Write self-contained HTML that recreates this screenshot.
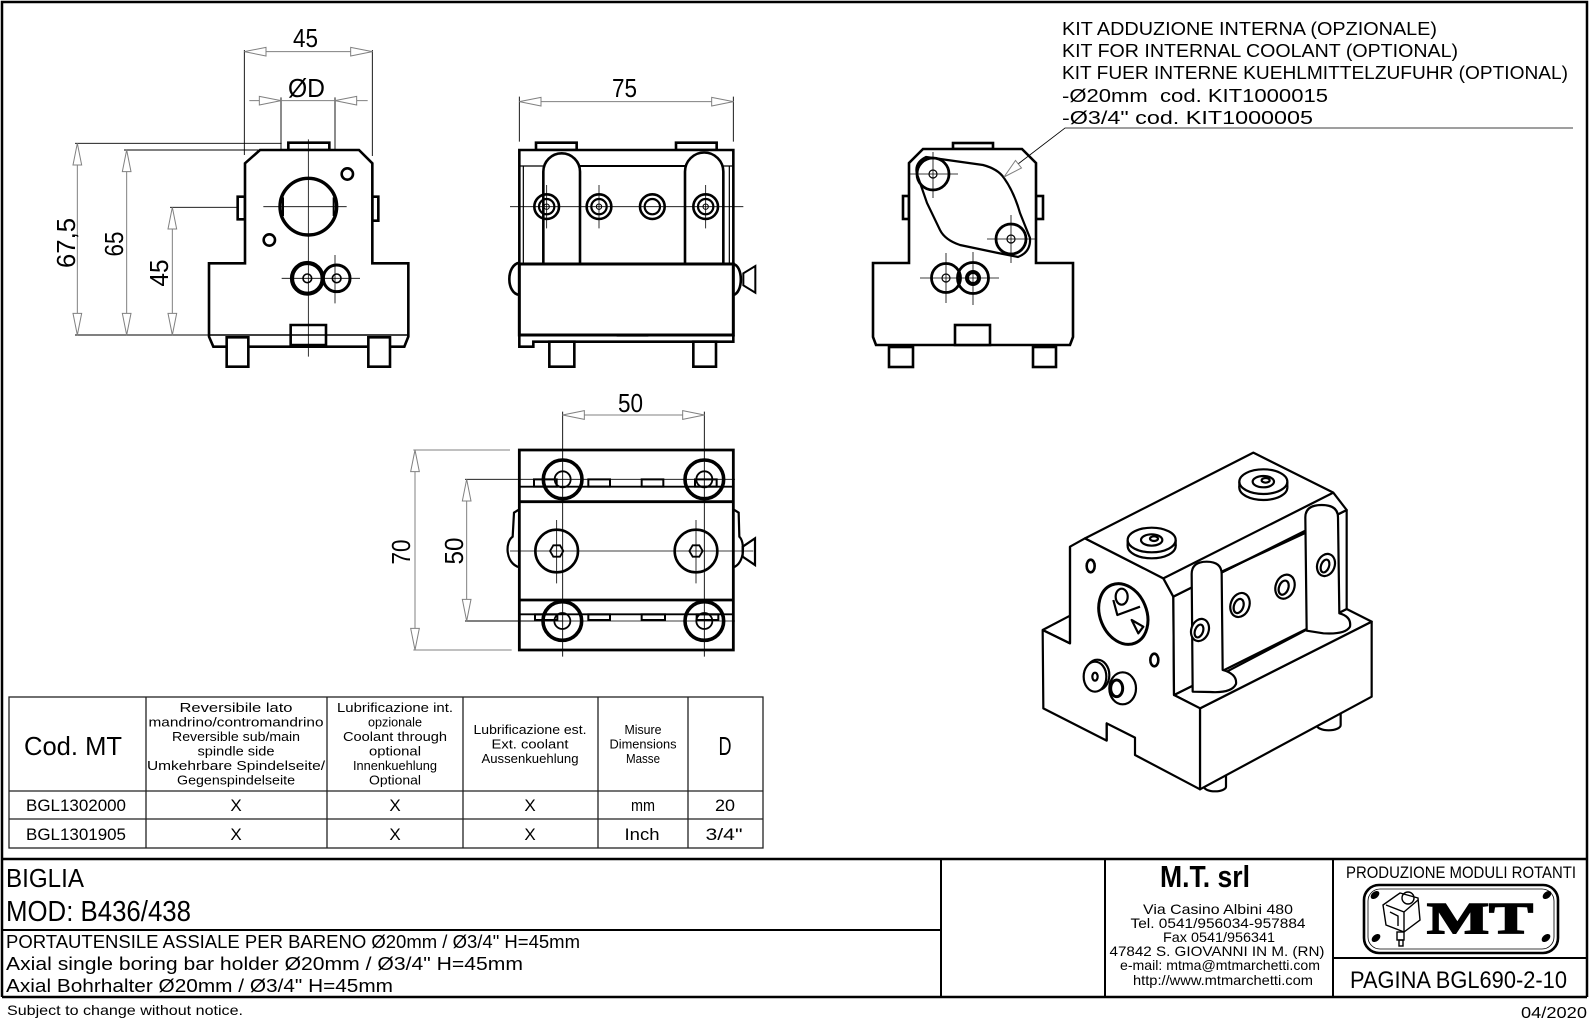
<!DOCTYPE html>
<html><head><meta charset="utf-8">
<style>
html,body{margin:0;padding:0;background:#fff;}
svg{display:block;}
.z *{vector-effect:non-scaling-stroke;}
text{font-family:"Liberation Sans",sans-serif;fill:#000;white-space:pre;}
</style></head><body>
<svg width="1596" height="1027" viewBox="0 0 1596 1027" xmlns="http://www.w3.org/2000/svg">
<rect x="0" y="0" width="1596" height="1027" fill="#fff"/>

<!-- ===== Frame ===== -->
<g stroke="#000" stroke-width="2.5" fill="none">
<path d="M2,997 V2 H1587 V997"/>
<path d="M2,859 H1587 M2,997 H1587"/>
</g>
<g stroke="#000" stroke-width="2" fill="none">
<path d="M941,859 V997 M1105,859 V997 M1333,859 V997 M2,930 H941 M1333,958 H1587"/>
</g>

<!-- ===== Front view (left) ===== -->
<g class="z" transform="scale(0.333333)">
 <g stroke="#000" stroke-width="0.9" fill="none">
  <path d="M733,150V465 M1117,150V468 M843,292V640 M1005,292V640 M225,430H845 M372,450H775 M510,622H790 M225,1005H627"/>
 </g>
 <g stroke="#808080" stroke-width="1" fill="none">
  <path d="M733,155H1117 M748,302H1103 M232,430V1005 M380,450V1005 M517,622V1005"/>
 </g>
 <g fill="#fff" stroke="#808080" stroke-width="1">
  <polygon points="733,155 798,142 798,168"/>
  <polygon points="1117,155 1052,142 1052,168"/>
  <polygon points="843,302 778,289 778,315"/>
  <polygon points="1005,302 1070,289 1070,315"/>
  <polygon points="232,430 219,495 245,495"/>
  <polygon points="232,1005 219,940 245,940"/>
  <polygon points="380,450 367,515 393,515"/>
  <polygon points="380,1005 367,940 393,940"/>
  <polygon points="517,622 504,687 530,687"/>
  <polygon points="517,1005 504,940 530,940"/>
 </g>
 <g stroke="#000" stroke-width="2.6" fill="none">
  <rect x="865" y="428" width="123" height="22" fill="#fff"/>
  <rect x="713" y="590" width="22" height="68" fill="#fff"/>
  <rect x="1117" y="590" width="18" height="72" fill="#fff"/>
  <path d="M627,790H735V490L780,450H1077L1117,490V790H1225V1010L1213,1040H640L627,1010Z" fill="#fff"/>
  <rect x="680" y="1012" width="65" height="88" fill="#fff"/>
  <rect x="1105" y="1012" width="65" height="88" fill="#fff"/>
  <rect x="872" y="975" width="106" height="60" fill="#fff"/>
  <circle cx="925" cy="620" r="85" stroke-width="3.4"/>
  <circle cx="1042" cy="522" r="17"/>
  <circle cx="808" cy="720" r="17"/>
  <circle cx="922" cy="835" r="46" stroke-width="4.2"/>
  <circle cx="1010" cy="835" r="40" stroke-width="3"/>
 </g>
 <g stroke="#000" stroke-width="1.6" fill="none">
  <path d="M627,1005H1225"/>
  <path d="M849,592V648 M1001,592V648" stroke-width="2"/>
  <circle cx="922" cy="835" r="13"/>
  <circle cx="1010" cy="835" r="13"/>
 </g>
 <g stroke="#000" stroke-width="0.8" fill="none">
  <path d="M925,418V1070 M790,620H1040 M845,835H1080 M1005,765V910"/>
 </g>
</g>

<!-- ===== Side view (middle) ===== -->
<g class="z" transform="translate(480,60) scale(0.333333)">
 <g stroke="#000" stroke-width="0.9" fill="none"><path d="M118,110V245 M760,110V245"/></g>
 <path d="M118,125H760" stroke="#808080" stroke-width="1" fill="none"/>
 <g fill="#fff" stroke="#808080" stroke-width="1">
  <polygon points="118,125 183,112 183,138"/>
  <polygon points="760,125 695,112 695,138"/>
 </g>
 <g stroke="#000" stroke-width="2.6" fill="none">
  <rect x="168" y="248" width="122" height="22" fill="#fff"/>
  <rect x="588" y="248" width="122" height="22" fill="#fff"/>
  <path d="M118,612V270H760V612" fill="#fff"/>
  <path d="M300,318H615" stroke-width="2"/>
  <path d="M190,612V335A55,55 0 0 1 300,335V612" fill="#fff"/>
  <path d="M615,612V335A57.5,57.5 0 0 1 730,335V612" fill="#fff"/>
  <path d="M118,608C78,615 78,700 118,705"/>
  <path d="M760,612C790,618 790,698 760,705"/>
  <path d="M790,640L826,618V698L790,676Z" stroke-width="2"/>
  <rect x="118" y="612" width="642" height="213" fill="#fff" stroke-width="3"/>
  <path d="M118,825V860H160V845H760V825"/>
  <rect x="208" y="845" width="75" height="75" fill="#fff"/>
  <rect x="640" y="845" width="68" height="75" fill="#fff"/>
 </g>
 <g stroke="#000" stroke-width="1.2" fill="none">
  <path d="M118,318H190 M730,318H760 M130,318V612 M748,318V612 M410,828H505"/>
 </g>
 <g stroke="#000" fill="none">
  <circle cx="200" cy="440" r="37" stroke-width="2.6"/><circle cx="200" cy="440" r="23" stroke-width="2.2"/><circle cx="200" cy="440" r="8" stroke-width="1"/>
  <circle cx="357" cy="440" r="37" stroke-width="2.6"/><circle cx="357" cy="440" r="23" stroke-width="2.2"/><circle cx="357" cy="440" r="8" stroke-width="1"/>
  <circle cx="517" cy="440" r="37" stroke-width="2.6"/><circle cx="517" cy="440" r="23" stroke-width="2.2"/>
  <circle cx="677" cy="440" r="37" stroke-width="2.6"/><circle cx="677" cy="440" r="23" stroke-width="2.2"/><circle cx="677" cy="440" r="8" stroke-width="1"/>
  <path d="M90,440H790 M200,375V505 M357,375V505 M677,375V505" stroke-width="0.8"/>
 </g>
</g>

<!-- ===== Right front view with kit ===== -->
<g stroke="#000" stroke-width="2.6" fill="none">
 <rect x="953" y="143" width="40" height="6" fill="#fff"/>
 <rect x="903" y="196" width="6" height="23" fill="#fff"/>
 <rect x="1036" y="196" width="7" height="23" fill="#fff"/>
 <path d="M873,263H909V163L923,149H1022L1036,163V263H1073V337L1070,345H876L873,337Z" fill="#fff"/>
 <rect x="955" y="325" width="35" height="20" fill="#fff"/>
 <rect x="889" y="347" width="24" height="20" fill="#fff"/>
 <rect x="1033" y="347" width="23" height="20" fill="#fff"/>
 <path d="M926,157 L983,165 Q998,169 1004,178 Q1014,192 1020,213 L1030,238 Q1031,252 1018,257 L998,253 L960,245 Q945,240 940,230 L927,203 L917,174 Q914,163 926,157Z" stroke-width="2.2"/>
 <circle cx="933" cy="174" r="16" stroke-width="2.8"/>
 <circle cx="1011" cy="239" r="15" stroke-width="2.8"/>
 <circle cx="946" cy="278" r="14.5" stroke-width="2.8"/>
 <circle cx="973" cy="278" r="15.5" stroke-width="2.8"/>
</g>
<g stroke="#000" fill="none">
 <circle cx="933" cy="174" r="4" stroke-width="1.2"/>
 <circle cx="1011" cy="239" r="4" stroke-width="1.2"/>
 <circle cx="946" cy="278" r="4" stroke-width="1.2"/>
 <circle cx="973" cy="278" r="6" stroke-width="4"/>
 <path d="M910,174H958 M933,152V198 M987,239H1035 M1011,215V263 M920,278H999 M946,253V303 M973,252V305" stroke-width="0.8"/>
</g>
<!-- leader -->
<path d="M1573,128H1065L1018,164" stroke="#000" stroke-width="0.8" fill="none"/>
<polygon points="1004,177 1021.5,168 1015.5,160.5" fill="#fff" stroke="#808080" stroke-width="1"/>

<!-- ===== Plan view ===== -->
<g class="z" transform="translate(370,370) scale(0.333333)">
 <g stroke="#000" stroke-width="0.9" fill="none">
  <path d="M578,125V860 M1003,125V860 M285,328H578 M285,753H578"/>
 </g>
 <g stroke="#808080" stroke-width="1" fill="none">
  <path d="M578,135H1003 M135,240V840 M290,328V753 M130,240H420 M130,840H425"/>
 </g>
 <g fill="#fff" stroke="#808080" stroke-width="1">
  <polygon points="578,135 643,122 643,148"/>
  <polygon points="1003,135 938,122 938,148"/>
  <polygon points="135,240 122,305 148,305"/>
  <polygon points="135,840 122,775 148,775"/>
  <polygon points="290,328 277,393 303,393"/>
  <polygon points="290,753 277,688 303,688"/>
 </g>
 <g stroke="#000" stroke-width="2.2" fill="none">
  <path d="M448,418L432,428L428,500C405,515 405,580 448,592"/>
  <path d="M1090,418L1106,428L1108,500C1125,515 1125,580 1090,592"/>
  <path d="M1118,530L1155,505V585L1118,560Z"/>
 </g>
 <rect x="448" y="240" width="642" height="600" fill="none" stroke="#000" stroke-width="2.8"/>
 <g stroke="#000" fill="none">
  <path d="M448,350H1090 M448,733H1090" stroke-width="1.8"/>
  <path d="M448,395H1090 M448,690H1090" stroke-width="2.8"/>
  <g stroke-width="2">
   <rect x="492" y="328" width="68" height="22"/><rect x="655" y="328" width="65" height="22"/><rect x="815" y="328" width="65" height="22"/><rect x="975" y="328" width="65" height="22"/>
   <rect x="495" y="733" width="67" height="17"/><rect x="655" y="733" width="65" height="17"/><rect x="815" y="733" width="70" height="17"/><rect x="980" y="733" width="65" height="17"/>
  </g>
  <circle cx="578" cy="328" r="58" stroke-width="3.6"/><circle cx="578" cy="328" r="24" stroke-width="1.8"/>
  <circle cx="1003" cy="328" r="58" stroke-width="3.6"/><circle cx="1003" cy="328" r="24" stroke-width="1.8"/>
  <circle cx="577" cy="753" r="58" stroke-width="3.6"/><circle cx="577" cy="753" r="24" stroke-width="1.8"/>
  <circle cx="1003" cy="753" r="58" stroke-width="3.6"/><circle cx="1003" cy="753" r="24" stroke-width="1.8"/>
  <circle cx="560" cy="543" r="64" stroke-width="2.6"/>
  <polygon points="580,543 570,526 550,526 540,543 550,560 570,560" stroke-width="1.8"/>
  <circle cx="978" cy="543" r="64" stroke-width="2.6"/>
  <polygon points="998,543 988,526 968,526 958,543 968,560 988,560" stroke-width="1.8"/>
  <path d="M420,543H1150 M560,450V640 M978,450V640 M578,328H1095 M577,753H1095" stroke-width="0.8"/>
 </g>
</g>

<!-- ===== Isometric view ===== -->
<g class="z" transform="translate(1000,430) scale(0.333333)" stroke="#000" stroke-width="2.2" fill="#fff" stroke-linejoin="round">
 <path d="M950,840V885A36,16 0 0 0 1022,885V840Z"/>
 <path d="M612,1030V1070A33,14 0 0 0 678,1070V1030Z"/>
 <polygon points="600,835 1115,575 1115,800 600,1078"/>
 <polygon points="522,795 600,835 1115,575 1040,537"/>
 <polygon points="210,350 255,325 490,445 520,500 522,795 600,835 600,1078 405,975 405,923 320,880 320,932 130,835 128,600 210,640"/>
 <path d="M128,600L210,557" fill="none"/>
 <path d="M210,350V640 M128,600L210,640" fill="none"/>
 <polygon points="520,500 1040,240 1040,537 522,795"/>
 <polygon points="255,325 760,68 1000,188 1040,240 520,500 490,445"/>
 <path d="M490,445L1000,188" fill="none"/>
 <path d="M665,425L918,308 M680,725L922,598" fill="none"/>
 <path d="M578,785L575,432Q575,395 620,395Q665,395 665,432L668,720Q712,732 708,762Q695,790 630,786Z"/>
 <path d="M920,602L916,262Q916,225 965,225Q1014,225 1014,262L1018,550Q1055,560 1050,590Q1036,614 970,610Z"/>
 <g>
  <ellipse cx="455" cy="348" rx="72" ry="37"/>
  <rect x="383" y="330" width="144" height="18" stroke="none"/>
  <path d="M383,330V348 M527,330V348" fill="none"/>
  <ellipse cx="455" cy="330" rx="72" ry="37"/>
  <ellipse cx="455" cy="330" rx="32" ry="17"/>
  <ellipse cx="462" cy="326" rx="12" ry="7"/>
  <ellipse cx="790" cy="173" rx="72" ry="37"/>
  <rect x="718" y="155" width="144" height="18" stroke="none"/>
  <path d="M718,155V173 M862,155V173" fill="none"/>
  <ellipse cx="790" cy="155" rx="72" ry="37"/>
  <ellipse cx="790" cy="155" rx="32" ry="17"/>
  <ellipse cx="797" cy="151" rx="12" ry="7"/>
 </g>
 <ellipse cx="370" cy="552" rx="70" ry="94" transform="rotate(-22 370 552)" stroke-width="3"/>
 <path d="M340,510 L352,555 L420,530 M395,570 L430,590 L415,610Z" fill="none"/>
 <ellipse cx="365" cy="500" rx="18" ry="24" fill="none"/>
 <ellipse cx="272" cy="408" rx="12" ry="19" stroke-width="2.6"/>
 <ellipse cx="463" cy="690" rx="12" ry="19" stroke-width="2.6"/>
 <ellipse cx="292" cy="735" rx="36" ry="46"/>
 <ellipse cx="285" cy="740" rx="34" ry="45"/>
 <ellipse cx="285" cy="740" rx="8" ry="12"/>
 <ellipse cx="368" cy="775" rx="40" ry="48"/>
 <ellipse cx="350" cy="775" rx="18" ry="25" stroke-width="3"/>
 <path d="M320,880V932" fill="none"/>
 <ellipse cx="720" cy="525" rx="28" ry="37" transform="rotate(20 720 525)"/>
 <ellipse cx="716" cy="528" rx="14" ry="22" transform="rotate(20 716 528)"/>
 <ellipse cx="855" cy="470" rx="28" ry="37" transform="rotate(20 855 470)"/>
 <ellipse cx="851" cy="473" rx="14" ry="22" transform="rotate(20 851 473)"/>
 <ellipse cx="600" cy="600" rx="26" ry="34" transform="rotate(20 600 600)"/>
 <ellipse cx="597" cy="603" rx="12" ry="20" transform="rotate(20 597 603)"/>
 <ellipse cx="978" cy="405" rx="26" ry="34" transform="rotate(20 978 405)"/>
 <ellipse cx="975" cy="408" rx="12" ry="20" transform="rotate(20 975 408)"/>
</g>

<!-- ===== Dimension texts ===== -->
<g font-size="26">
 <text x="293" y="47" textLength="25" lengthAdjust="spacingAndGlyphs">45</text>
 <text x="288" y="97" textLength="37" lengthAdjust="spacingAndGlyphs">ØD</text>
 <text x="612" y="97" textLength="25" lengthAdjust="spacingAndGlyphs">75</text>
 <text x="618" y="412" textLength="25" lengthAdjust="spacingAndGlyphs">50</text>
 <text transform="translate(75,243) rotate(-90)" text-anchor="middle" textLength="50" lengthAdjust="spacingAndGlyphs">67,5</text>
 <text transform="translate(123,244) rotate(-90)" text-anchor="middle" textLength="25" lengthAdjust="spacingAndGlyphs">65</text>
 <text transform="translate(168,273) rotate(-90)" text-anchor="middle" textLength="27" lengthAdjust="spacingAndGlyphs">45</text>
 <text transform="translate(410,552) rotate(-90)" text-anchor="middle" textLength="25" lengthAdjust="spacingAndGlyphs">70</text>
 <text transform="translate(463,551) rotate(-90)" text-anchor="middle" textLength="27" lengthAdjust="spacingAndGlyphs">50</text>
</g>

<!-- ===== KIT text ===== -->
<g font-size="18.5">
 <text x="1062" y="35" textLength="375" lengthAdjust="spacingAndGlyphs">KIT ADDUZIONE INTERNA (OPZIONALE)</text>
 <text x="1062" y="57" textLength="396" lengthAdjust="spacingAndGlyphs">KIT FOR INTERNAL COOLANT (OPTIONAL)</text>
 <text x="1062" y="79" textLength="506" lengthAdjust="spacingAndGlyphs">KIT FUER INTERNE KUEHLMITTELZUFUHR (OPTIONAL)</text>
 <text x="1062" y="102" textLength="266" lengthAdjust="spacingAndGlyphs">-Ø20mm  cod. KIT1000015</text>
 <text x="1062" y="124" textLength="251" lengthAdjust="spacingAndGlyphs">-Ø3/4" cod. KIT1000005</text>
</g>

<!-- ===== Table ===== -->
<g stroke="#222" stroke-width="1.3" fill="none">
 <rect x="9" y="697" width="754" height="151"/>
 <path d="M146,697V848 M327,697V848 M463,697V848 M598,697V848 M688,697V848 M9,791H763 M9,819H763"/>
</g>
<g font-size="12.5" text-anchor="middle">
 <text x="236" y="712" textLength="113" lengthAdjust="spacingAndGlyphs">Reversibile lato</text>
 <text x="236" y="726.5" textLength="175" lengthAdjust="spacingAndGlyphs">mandrino/contromandrino</text>
 <text x="236" y="741" textLength="128" lengthAdjust="spacingAndGlyphs">Reversible sub/main</text>
 <text x="236" y="755.5" textLength="77" lengthAdjust="spacingAndGlyphs">spindle side</text>
 <text x="236" y="770" textLength="178" lengthAdjust="spacingAndGlyphs">Umkehrbare Spindelseite/</text>
 <text x="236" y="784.5" textLength="118" lengthAdjust="spacingAndGlyphs">Gegenspindelseite</text>
 <text x="395" y="712" textLength="116" lengthAdjust="spacingAndGlyphs">Lubrificazione int.</text>
 <text x="395" y="726.5" textLength="54" lengthAdjust="spacingAndGlyphs">opzionale</text>
 <text x="395" y="741" textLength="104" lengthAdjust="spacingAndGlyphs">Coolant through</text>
 <text x="395" y="755.5" textLength="52" lengthAdjust="spacingAndGlyphs">optional</text>
 <text x="395" y="770" textLength="84" lengthAdjust="spacingAndGlyphs">Innenkuehlung</text>
 <text x="395" y="784.5" textLength="52" lengthAdjust="spacingAndGlyphs">Optional</text>
 <text x="530" y="734" textLength="113" lengthAdjust="spacingAndGlyphs">Lubrificazione est.</text>
 <text x="530" y="748.5" textLength="77" lengthAdjust="spacingAndGlyphs">Ext. coolant</text>
 <text x="530" y="763" textLength="97" lengthAdjust="spacingAndGlyphs">Aussenkuehlung</text>
 <text x="643" y="734" textLength="37" lengthAdjust="spacingAndGlyphs">Misure</text>
 <text x="643" y="748.5" textLength="67" lengthAdjust="spacingAndGlyphs">Dimensions</text>
 <text x="643" y="763" textLength="34" lengthAdjust="spacingAndGlyphs">Masse</text>
</g>
<text x="24" y="755" font-size="26" textLength="98" lengthAdjust="spacingAndGlyphs">Cod. MT</text>
<text x="725" y="755" font-size="26" text-anchor="middle" textLength="13" lengthAdjust="spacingAndGlyphs">D</text>
<g font-size="17" text-anchor="middle">
 <text x="76" y="811" textLength="100" lengthAdjust="spacingAndGlyphs">BGL1302000</text>
 <text x="236" y="811">X</text><text x="395" y="811">X</text><text x="530" y="811">X</text>
 <text x="643" y="811" textLength="24" lengthAdjust="spacingAndGlyphs">mm</text>
 <text x="725" y="811" textLength="20" lengthAdjust="spacingAndGlyphs">20</text>
 <text x="76" y="840" textLength="100" lengthAdjust="spacingAndGlyphs">BGL1301905</text>
 <text x="236" y="840">X</text><text x="395" y="840">X</text><text x="530" y="840">X</text>
 <text x="642" y="840" textLength="35" lengthAdjust="spacingAndGlyphs">Inch</text>
 <text x="724" y="840" textLength="37" lengthAdjust="spacingAndGlyphs">3/4"</text>
</g>

<!-- ===== Title block text ===== -->
<text x="6" y="887" font-size="26" textLength="78" lengthAdjust="spacingAndGlyphs">BIGLIA</text>
<text x="6" y="921" font-size="29" textLength="185" lengthAdjust="spacingAndGlyphs">MOD: B436/438</text>
<text x="6" y="948" font-size="18" textLength="574" lengthAdjust="spacingAndGlyphs">PORTAUTENSILE ASSIALE PER BARENO Ø20mm / Ø3/4" H=45mm</text>
<text x="6" y="970" font-size="18" textLength="517" lengthAdjust="spacingAndGlyphs">Axial single boring bar holder Ø20mm / Ø3/4" H=45mm</text>
<text x="6" y="992" font-size="18" textLength="387" lengthAdjust="spacingAndGlyphs">Axial Bohrhalter Ø20mm / Ø3/4" H=45mm</text>
<text x="7" y="1015" font-size="14" textLength="236" lengthAdjust="spacingAndGlyphs">Subject to change without notice.</text>
<text x="1587" y="1018" font-size="16" text-anchor="end" textLength="66" lengthAdjust="spacingAndGlyphs">04/2020</text>

<text x="1160" y="887" font-size="31" font-weight="bold" textLength="90" lengthAdjust="spacingAndGlyphs">M.T. srl</text>
<g font-size="14" text-anchor="middle">
 <text x="1218" y="914" textLength="150" lengthAdjust="spacingAndGlyphs">Via Casino Albini 480</text>
 <text x="1218" y="928" textLength="175" lengthAdjust="spacingAndGlyphs">Tel. 0541/956034-957884</text>
 <text x="1219" y="942" textLength="112" lengthAdjust="spacingAndGlyphs">Fax 0541/956341</text>
 <text x="1217" y="956" textLength="215" lengthAdjust="spacingAndGlyphs">47842 S. GIOVANNI IN M. (RN)</text>
 <text x="1220" y="970" textLength="200" lengthAdjust="spacingAndGlyphs">e-mail: mtma@mtmarchetti.com</text>
 <text x="1223" y="985" textLength="180" lengthAdjust="spacingAndGlyphs">http://www.mtmarchetti.com</text>
</g>

<text x="1346" y="878" font-size="17" textLength="230" lengthAdjust="spacingAndGlyphs">PRODUZIONE MODULI ROTANTI</text>
<text x="1350" y="988" font-size="24" textLength="217" lengthAdjust="spacingAndGlyphs">PAGINA BGL690-2-10</text>

<!-- logo -->
<rect x="1364" y="885" width="194" height="68" rx="15" fill="none" stroke="#000" stroke-width="2.6"/>
<rect x="1368" y="889" width="186" height="60" rx="12" fill="none" stroke="#000" stroke-width="0.8"/>
<g fill="#000">
 <ellipse cx="1375" cy="895" rx="5" ry="3.2" transform="rotate(-40 1375 895)"/>
 <ellipse cx="1547" cy="895" rx="5" ry="3.2" transform="rotate(-40 1547 895)"/>
 <ellipse cx="1376" cy="938" rx="5" ry="3.2" transform="rotate(-40 1376 938)"/>
 <ellipse cx="1546" cy="938" rx="5" ry="3.2" transform="rotate(-40 1546 938)"/>
</g>
<text x="1427" y="933" font-size="44" font-weight="bold" stroke="#000" stroke-width="1.6" textLength="106" lengthAdjust="spacingAndGlyphs" style="font-family:'Liberation Serif',serif">MT</text>
<g stroke="#000" stroke-width="1.4" fill="none">
 <polygon points="1383,905 1400,893 1418,898 1420,920 1404,932 1386,925" fill="#fff"/>
 <circle cx="1408" cy="898" r="6"/>
 <path d="M1386,905L1404,912L1418,900 M1404,912V932 M1390,912L1398,916V926"/>
 <rect x="1397" y="932" width="7" height="8"/>
 <rect x="1399" y="940" width="4" height="6"/>
</g>
</svg>
</body></html>
